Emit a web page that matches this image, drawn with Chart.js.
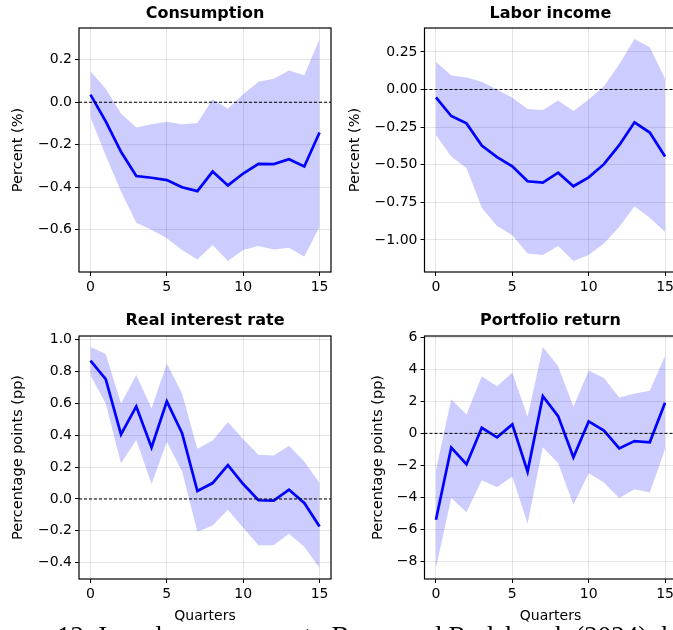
<!DOCTYPE html>
<html>
<head>
<meta charset="utf-8">
<script src="https://cdn.jsdelivr.net/npm/chart.js@4.4.1/dist/chart.umd.min.js"></script>
<style>
  html, body { margin: 0; padding: 0; background: #fff; overflow: hidden; width: 673px; height: 630px; }
  canvas { position: absolute; }
  #caption { position: absolute; left: 57px; top: 623px; font: 27px "Liberation Serif", serif; line-height: 1; white-space: nowrap; color: #000; }
</style>
</head>
<body>
<canvas id="c1" width="340" height="300" style="left:0;top:0"></canvas>
<canvas id="c2" width="350" height="300" style="left:333px;top:0"></canvas>
<canvas id="c3" width="340" height="330" style="left:0;top:300px"></canvas>
<canvas id="c4" width="350" height="330" style="left:333px;top:300px"></canvas>
<div id="caption">12: Impulse responses to Bauer and Rudebusch (2024) data</div>
<script>
// quarters after the shock
var quarters = [0, 1, 2, 3, 4, 5, 6, 7, 8, 9, 10, 11, 12, 13, 14, 15];
var xTicks = [0, 5, 10, 15];

var consumptionMean  = [0.036, -0.09, -0.233, -0.347, -0.355, -0.366, -0.40, -0.418, -0.326, -0.391, -0.335, -0.29, -0.291, -0.268, -0.302, -0.142];
var consumptionUpper = [0.146, 0.064, -0.053, -0.119, -0.103, -0.092, -0.103, -0.097, 0.014, -0.031, 0.038, 0.097, 0.111, 0.149, 0.127, 0.297];
var consumptionLower = [-0.072, -0.25, -0.42, -0.567, -0.60, -0.64, -0.695, -0.739, -0.671, -0.746, -0.695, -0.676, -0.692, -0.684, -0.726, -0.585];
var consumptionTicks = [-0.6, -0.4, -0.2, 0, 0.2];

var laborMean  = [-0.053, -0.176, -0.225, -0.372, -0.449, -0.511, -0.61, -0.619, -0.553, -0.643, -0.584, -0.496, -0.37, -0.218, -0.286, -0.445];
var laborUpper = [0.185, 0.093, 0.079, 0.051, 0.0, -0.055, -0.13, -0.137, -0.073, -0.143, -0.066, 0.022, 0.167, 0.335, 0.28, 0.073];
var laborLower = [-0.302, -0.445, -0.522, -0.786, -0.907, -0.969, -1.09, -1.10, -1.04, -1.139, -1.099, -1.024, -0.914, -0.775, -0.852, -0.947];
var laborTicks = [-1.0, -0.75, -0.5, -0.25, 0, 0.25];

var rateMean  = [0.869, 0.752, 0.406, 0.581, 0.323, 0.613, 0.413, 0.05, 0.10, 0.2125, 0.094, -0.008, -0.01, 0.058, -0.025, -0.173];
var rateUpper = [0.954, 0.91, 0.60, 0.779, 0.569, 0.85, 0.6625, 0.315, 0.367, 0.483, 0.375, 0.277, 0.273, 0.335, 0.235, 0.10];
var rateLower = [0.777, 0.60, 0.225, 0.371, 0.094, 0.36, 0.173, -0.206, -0.167, -0.067, -0.181, -0.29, -0.29, -0.219, -0.30, -0.433];
var rateTicks = [-0.4, -0.2, 0, 0.2, 0.4, 0.6, 0.8, 1.0];

var portfolioMean  = [-5.4, -0.89, -1.93, 0.35, -0.25, 0.56, -2.39, 2.33, 1.08, -1.50, 0.75, 0.17, -0.94, -0.48, -0.56, 1.91];
var portfolioUpper = [-2.29, 2.14, 1.18, 3.58, 2.95, 3.80, 1.04, 5.40, 4.20, 1.66, 3.93, 3.47, 2.25, 2.49, 2.66, 4.86];
var portfolioLower = [-8.42, -4.05, -4.93, -2.93, -3.37, -2.70, -5.65, -0.87, -1.87, -4.47, -2.49, -3.08, -4.05, -3.49, -3.70, -1.0];
var portfolioTicks = [-8, -6, -4, -2, 0, 2, 4, 6];

var FONT = 'DejaVu Sans';

function pts(arr) {
  return quarters.map(function (q, i) { return { x: q, y: arr[i] }; });
}

function fmt(v, dec) {
  var s = Number(v).toFixed(dec);
  if (Math.abs(v) < 1e-9) s = (0).toFixed(dec);
  return s.replace('-', '\u2212');
}

// black box round the axes + dashed zero line
var framePlugin = {
  id: 'frame',
  afterDatasetsDraw: function (chart) {
    var ctx = chart.ctx, a = chart.chartArea;
    var y0 = chart.scales.y.getPixelForValue(0);
    ctx.save();
    ctx.strokeStyle = '#000';
    ctx.lineWidth = 1;
    ctx.setLineDash([3, 2]);
    ctx.beginPath();
    ctx.moveTo(a.left, y0);
    ctx.lineTo(a.right, y0);
    ctx.stroke();
    ctx.setLineDash([]);
    ctx.lineWidth = 1.2;
    ctx.strokeRect(a.left, a.top, a.right - a.left, a.bottom - a.top);
    ctx.restore();
  }
};

function makePanel(id, p) {
  var lo = Math.min.apply(null, p.lower), hi = Math.max.apply(null, p.upper);
  var m = (hi - lo) * 0.05;
  var xLo = quarters[0] - 0.05 * (quarters[15] - quarters[0]);
  var xHi = quarters[15] + 0.05 * (quarters[15] - quarters[0]);

  var xScale = {
    type: 'linear', min: xLo, max: xHi,
    afterBuildTicks: function (s) { s.ticks = xTicks.map(function (v) { return { value: v }; }); },
    afterFit: function (s) { s.height = p.xHeight; },
    ticks: { color: '#000', font: { family: FONT, size: 14 }, padding: 3, maxRotation: 0, autoSkip: false },
    grid: { color: 'rgba(0,0,0,0.1)', tickColor: '#000', tickLength: 4 },
    border: { display: false },
    title: { display: !!p.xTitle, text: p.xTitle || '', color: '#000', font: { family: FONT, size: 14 }, padding: { top: 0, bottom: 5 } }
  };
  var yScale = {
    type: 'linear', min: lo - m, max: hi + m,
    afterBuildTicks: function (s) { s.ticks = p.ticks.map(function (v) { return { value: v }; }); },
    afterFit: function (s) { s.width = p.yWidth; },
    ticks: { color: '#000', font: { family: FONT, size: 14 }, padding: 3, callback: function (v) { return fmt(v, p.dec); } },
    grid: { color: 'rgba(0,0,0,0.1)', tickColor: '#000', tickLength: 4 },
    border: { display: false },
    title: { display: true, text: p.yTitle, color: '#000', font: { family: FONT, size: 14.5 }, padding: { top: p.yTitlePad, bottom: 0 } }
  };

  return new Chart(document.getElementById(id), {
    type: 'line',
    data: {
      datasets: [
        { data: pts(p.mean), borderColor: '#0000ff', borderWidth: 2.7, pointRadius: 0, fill: false, tension: 0 },
        { data: pts(p.upper), borderWidth: 0, borderColor: 'rgba(0,0,0,0)', pointRadius: 0, fill: '+1', backgroundColor: 'rgba(0,0,255,0.2)', tension: 0 },
        { data: pts(p.lower), borderWidth: 0, borderColor: 'rgba(0,0,0,0)', pointRadius: 0, fill: false, tension: 0 }
      ]
    },
    options: {
      responsive: false,
      devicePixelRatio: 1,
      animation: false,
      layout: { padding: { left: 0, right: p.padRight, top: 0, bottom: 0 } },
      scales: { x: xScale, y: yScale },
      plugins: {
        legend: { display: false },
        tooltip: { enabled: false },
        title: {
          display: true, text: p.title, fullSize: false, color: '#000',
          font: { family: FONT, size: 16, weight: 'bold' },
          padding: { top: p.titleTop, bottom: p.titleBottom }
        }
      }
    },
    plugins: [framePlugin]
  });
}

makePanel('c1', { title: 'Consumption', yTitle: 'Percent (%)', mean: consumptionMean, upper: consumptionUpper, lower: consumptionLower,
  ticks: consumptionTicks, dec: 1, yWidth: 79, yTitlePad: 10, padRight: 9, xHeight: 28, titleTop: 4, titleBottom: 4.8 });
makePanel('c2', { title: 'Labor income', yTitle: 'Percent (%)', mean: laborMean, upper: laborUpper, lower: laborLower,
  ticks: laborTicks, dec: 2, yWidth: 91.5, yTitlePad: 13.6, padRight: 6.5, xHeight: 28, titleTop: 4, titleBottom: 4.8 });
makePanel('c3', { title: 'Real interest rate', yTitle: 'Percentage points (pp)', mean: rateMean, upper: rateUpper, lower: rateLower,
  ticks: rateTicks, dec: 1, yWidth: 79, yTitlePad: 10, padRight: 9, xHeight: 51, xTitle: 'Quarters', titleTop: 11.4, titleBottom: 5.4 });
makePanel('c4', { title: 'Portfolio return', yTitle: 'Percentage points (pp)', mean: portfolioMean, upper: portfolioUpper, lower: portfolioLower,
  ticks: portfolioTicks, dec: 0, yWidth: 91.5, yTitlePad: 36.6, padRight: 6.5, xHeight: 51, xTitle: 'Quarters', titleTop: 11.4, titleBottom: 5.4 });
</script>
</body>
</html>
